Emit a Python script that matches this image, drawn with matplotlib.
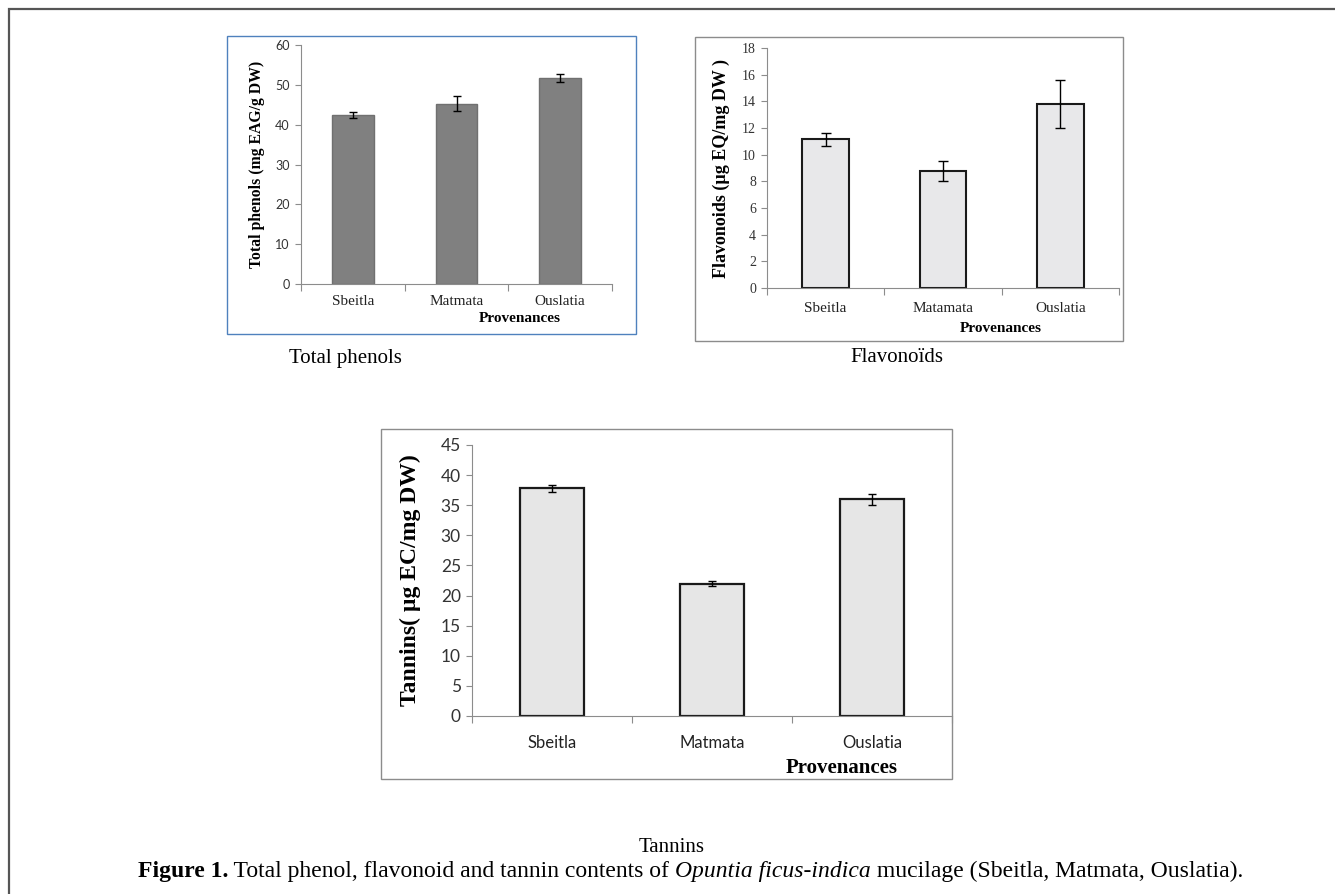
import numpy as np
import matplotlib
matplotlib.use("Agg")
import matplotlib.pyplot as plt
import matplotlib.transforms as mtransforms
from matplotlib.patches import Rectangle

sites = ["Sbeitla", "Matmata", "Ouslatia"]
sites_flav = ["Sbeitla", "Matamata", "Ouslatia"]

phenols = [42.5, 45.3, 51.7]
phenols_err = [0.8, 1.8, 0.9]

flavonoids = [11.15, 8.75, 13.8]
flavonoids_err = [0.5, 0.75, 1.8]

tannins = [37.8, 22.0, 36.0]
tannins_err = [0.55, 0.4, 0.9]

W, H = 1335, 894
SERIF = "Liberation Serif"
SANS = "Lato"

fig = plt.figure(figsize=(W / 100, H / 100), dpi=100)


def fx(x):
    return x / W


def fy(y):
    return 1 - y / H


def frame(x0, y0, x1, y1, color, lw=1.0):
    fig.patches.append(Rectangle((fx(x0), fy(y1)), fx(x1 - x0), (y1 - y0) / H,
                                 transform=fig.transFigure, fill=False,
                                 edgecolor=color, linewidth=lw))


def make_axes(box, values, errs, names, ymax, ystep, face, edge, elw,
              tickfont, ticksize, catfont, catsize, catpad, ylabel, ylsize,
              prov_x, prov_y, prov_size, cap=3):
    x0, y0, x1, y1 = box
    ax = fig.add_axes([fx(x0), fy(y1), fx(x1 - x0), (y1 - y0) / H])
    pos = np.arange(len(values))
    ax.bar(pos, values, width=0.4, color=face, edgecolor=edge, linewidth=elw, zorder=2)
    ax.errorbar(pos, values, yerr=errs, fmt="none", ecolor="black",
                elinewidth=1.0, capsize=cap, capthick=1.0, zorder=3)
    ax.set_xlim(-0.5, len(values) - 0.5)
    ax.set_ylim(0, ymax)
    ax.set_yticks(np.arange(0, ymax + 0.01, ystep))
    ax.set_xticks(np.arange(len(values) + 1) - 0.5)
    ax.set_xticklabels([])
    ax.set_xticks(pos, minor=True)
    ax.set_xticklabels(names, minor=True, family=catfont, fontsize=catsize, color="#222222")
    for s in ["top", "right"]:
        ax.spines[s].set_visible(False)
    for s in ["left", "bottom"]:
        ax.spines[s].set_color("#8c8c8c")
        ax.spines[s].set_linewidth(0.8)
    ax.tick_params(axis="y", direction="out", length=4, color="#8c8c8c",
                   labelsize=ticksize, labelcolor="#333333", pad=4)
    for t in ax.get_yticklabels():
        t.set_family(tickfont)
    ax.tick_params(axis="x", which="major", direction="out", length=5, color="#8c8c8c")
    ax.tick_params(axis="x", which="minor", length=0, pad=catpad)
    ax.set_ylabel(ylabel, family=SERIF, fontweight="bold", fontsize=ylsize)
    # "Provenances" sits under the right part of the axis, at a fixed pixel row
    ax.text(prov_x, fy(prov_y), "Provenances",
            transform=mtransforms.blended_transform_factory(ax.transAxes, fig.transFigure),
            ha="center", va="center", family=SERIF, fontweight="bold", fontsize=prov_size)
    return ax


# panel frames
frame(9, 9, W + 5, H + 5, "#555555", 1.6)
frame(227, 36, 636, 334, "#4f81bd", 1.0)
frame(695, 37, 1123, 341, "#8c8c8c", 1.0)
frame(381, 429, 952, 779, "#8c8c8c", 1.0)

ax1 = make_axes((301, 45, 612, 284), phenols, phenols_err, sites, 60, 10,
                "#808080", "#707070", 1.0, SANS, 9, SERIF, 11, 8,
                "Total phenols (mg EAG/g DW)", 11.3, 0.705, 319, 11)
ax1.yaxis.set_label_coords(-0.116, 0.5)

ax2 = make_axes((767, 48, 1119, 288), flavonoids, flavonoids_err, sites_flav, 18, 2,
                "#e8e8ea", "#1a1a1a", 1.5, SERIF, 10, SERIF, 11, 10,
                "Flavonoids (µg EQ/mg DW )", 13, 0.665, 329, 11, cap=3.5)
ax2.yaxis.set_label_coords(-0.105, 0.5)

ax3 = make_axes((472, 445, 952, 716), tannins, tannins_err, sites, 45, 5,
                "#e6e6e6", "#1a1a1a", 1.6, SANS, 12.5, SANS, 12, 14,
                "Tannins( µg EC/mg DW)", 17, 0.771, 768, 15)
ax3.yaxis.set_label_coords(-0.106, 0.5)

# sub-captions
fig.text(fx(345), fy(358), "Total phenols", ha="center", va="center", family=SERIF, fontsize=15)
fig.text(fx(897), fy(358), "Flavonoïds", ha="center", va="center", family=SERIF, fontsize=15)
fig.text(fx(672), fy(848), "Tannins", ha="center", va="center", family=SERIF, fontsize=15)

# figure caption built from pieces laid end to end
pieces = [("Figure 1.", "bold", "normal"),
          (" Total phenol, flavonoid and tannin contents of ", "normal", "normal"),
          ("Opuntia ficus-indica", "normal", "italic"),
          (" mucilage (Sbeitla, Matmata, Ouslatia).", "normal", "normal")]
fig.canvas.draw()
renderer = fig.canvas.get_renderer()
x = 138
for txt, wt, st in pieces:
    t = fig.text(fx(x), fy(877), txt, ha="left", va="baseline", family=SERIF,
                 fontsize=17, fontweight=wt, fontstyle=st)
    x += t.get_window_extent(renderer).width

fig.savefig("out.png", dpi=100)
